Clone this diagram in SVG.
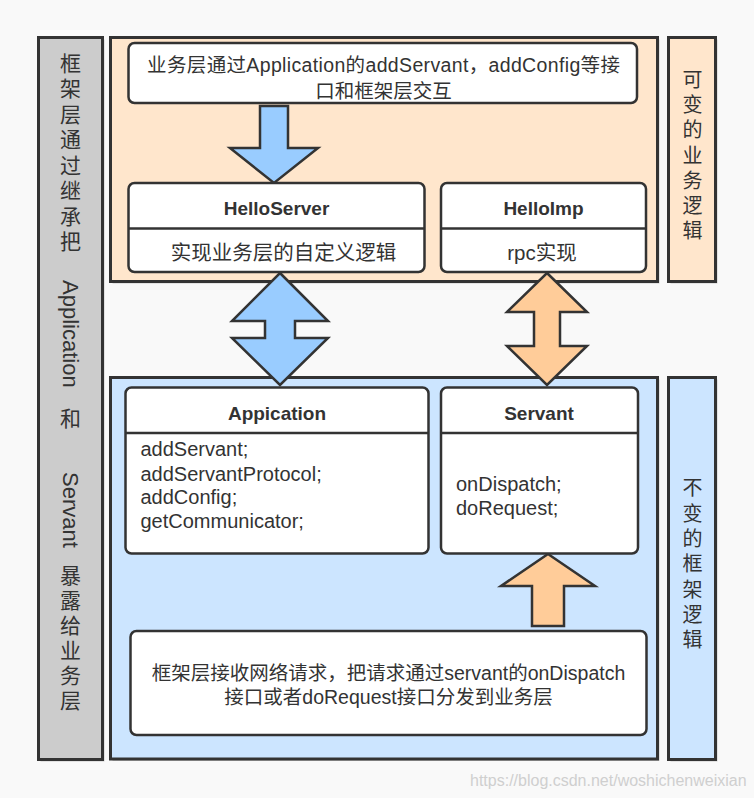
<svg xmlns="http://www.w3.org/2000/svg" width="754" height="798" viewBox="0 0 754 798">
<style>
text { font-family: "Liberation Sans", "Noto Sans CJK SC", sans-serif; fill: #333333; }
.cont { stroke: #333333; stroke-width: 3; }
.shadow { fill: #000000; opacity: 0.18; }
.box { fill: #ffffff; stroke: #333333; stroke-width: 2.5; }
.div { stroke: #333333; stroke-width: 2.5; }
.title { font-size: 19px; font-weight: bold; text-anchor: middle; }
.body { font-size: 20.5px; text-anchor: middle; }
.note { font-size: 19.5px; text-anchor: middle; }
.list { font-size: 20px; }
.vl { font-size: 21px; text-anchor: middle; dominant-baseline: central; }
.vr { font-size: 20px; text-anchor: middle; dominant-baseline: central; }
.vlat { font-size: 22px; }
.arrow { stroke: #333333; stroke-width: 2.5; stroke-linejoin: miter; }
</style>
<rect x="0" y="0" width="754" height="798" fill="#f9f9f9"/>

<g id="sidebar-left">
  <rect class="shadow" x="40.5" y="39.5" width="64" height="722"/>
  <rect class="cont" x="38.5" y="37.5" width="64" height="722" fill="#cccccc"/>
  <text class="vl" x="70.5" y="63">框</text>
  <text class="vl" x="70.5" y="88.5">架</text>
  <text class="vl" x="70.5" y="114">层</text>
  <text class="vl" x="70.5" y="139.5">通</text>
  <text class="vl" x="70.5" y="165">过</text>
  <text class="vl" x="70.5" y="190.5">继</text>
  <text class="vl" x="70.5" y="216">承</text>
  <text class="vl" x="70.5" y="241.5">把</text>
  <text class="vlat" transform="translate(62.5,280) rotate(90)">Application</text>
  <text class="vl" x="70.5" y="418">和</text>
  <text class="vlat" transform="translate(62.5,472) rotate(90)">Servant</text>
  <text class="vl" x="70.5" y="575">暴</text>
  <text class="vl" x="70.5" y="600">露</text>
  <text class="vl" x="70.5" y="625">给</text>
  <text class="vl" x="70.5" y="650">业</text>
  <text class="vl" x="70.5" y="675">务</text>
  <text class="vl" x="70.5" y="700">层</text>
</g>

<g id="business-layer">
  <rect class="shadow" x="112.5" y="39.5" width="547" height="244"/>
  <rect class="cont" x="110.5" y="37.5" width="547" height="244" fill="#ffe6cc"/>
</g>

<g id="framework-layer">
  <rect class="shadow" x="112.5" y="379.5" width="547" height="381.5"/>
  <rect class="cont" x="110.5" y="377.5" width="547" height="381.5" fill="#cce5ff"/>
</g>

<g id="sidebar-right-top">
  <rect class="shadow" x="670.5" y="39.5" width="47" height="244"/>
  <rect class="cont" x="668.5" y="37.5" width="47" height="244" fill="#ffe6cc"/>
  <text class="vr" x="692.5" y="80">可</text>
  <text class="vr" x="692.5" y="105.2">变</text>
  <text class="vr" x="692.5" y="130.4">的</text>
  <text class="vr" x="692.5" y="155.6">业</text>
  <text class="vr" x="692.5" y="180.8">务</text>
  <text class="vr" x="692.5" y="206">逻</text>
  <text class="vr" x="692.5" y="231.2">辑</text>
</g>

<g id="sidebar-right-bottom">
  <rect class="shadow" x="670.5" y="379.5" width="47" height="382"/>
  <rect class="cont" x="668.5" y="377.5" width="47" height="382" fill="#cce5ff"/>
  <text class="vr" x="692.5" y="488.3">不</text>
  <text class="vr" x="692.5" y="513.6">变</text>
  <text class="vr" x="692.5" y="538.9">的</text>
  <text class="vr" x="692.5" y="564.2">框</text>
  <text class="vr" x="692.5" y="589.5">架</text>
  <text class="vr" x="692.5" y="614.8">逻</text>
  <text class="vr" x="692.5" y="640.1">辑</text>
</g>

<g id="connectors">
  <polygon class="arrow" fill="#99ccff" points="260,106 288,106 288,148 318,148 274,183 230,148 260,148"/>
  <polygon class="arrow" fill="#99ccff" points="280,273 328,321 295,321 295,338 328,338 280,385 232,338 265,338 265,321 232,321"/>
  <polygon class="arrow" fill="#ffcc99" points="547,273 587,312 560,312 560,346 587,346 547,385 507,346 534,346 534,312 507,312"/>
  <polygon class="arrow" fill="#ffcc99" points="548,554 595,586 564,586 564,626 532,626 532,586 501,586"/>
</g>

<g id="note-top">
  <rect class="box" x="128.5" y="43" width="508.5" height="60" rx="6"/>
  <text class="note" x="383.7" y="72" letter-spacing="0.35">业务层通过Application的addServant，addConfig等接</text>
  <text class="note" x="383.5" y="97.5">口和框架层交互</text>
</g>

<g id="HelloServer">
  <rect class="box" x="128.5" y="183" width="296" height="89" rx="6"/>
  <line class="div" x1="128.5" y1="228.5" x2="424.5" y2="228.5"/>
  <text class="title" x="276.5" y="215">HelloServer</text>
  <text class="body" x="283.5" y="260">实现业务层的自定义逻辑</text>
</g>

<g id="HelloImp">
  <rect class="box" x="441" y="183" width="205" height="89" rx="6"/>
  <line class="div" x1="441" y1="228.5" x2="646" y2="228.5"/>
  <text class="title" x="543.5" y="215">HelloImp</text>
  <text class="body" x="542" y="260">rpc实现</text>
</g>

<g id="Appication">
  <rect class="box" x="125.5" y="387.5" width="303" height="166" rx="6"/>
  <line class="div" x1="125.5" y1="433" x2="428.5" y2="433"/>
  <text class="title" x="277" y="420">Appication</text>
  <text class="list" x="140.5" y="456">addServant;</text>
  <text class="list" x="140.5" y="480.5">addServantProtocol;</text>
  <text class="list" x="140.5" y="504">addConfig;</text>
  <text class="list" x="140.5" y="528">getCommunicator;</text>
</g>

<g id="Servant">
  <rect class="box" x="441" y="387.5" width="197" height="166" rx="6"/>
  <line class="div" x1="441" y1="433" x2="638" y2="433"/>
  <text class="title" x="539" y="420">Servant</text>
  <text class="list" x="456" y="491">onDispatch;</text>
  <text class="list" x="456" y="515">doRequest;</text>
</g>

<g id="note-bottom">
  <rect class="box" x="130.5" y="631" width="516" height="104" rx="6"/>
  <text class="note" x="388.5" y="680">框架层接收网络请求，把请求通过servant的onDispatch</text>
  <text class="note" x="388.5" y="704">接口或者doRequest接口分发到业务层</text>
</g>

<text x="470" y="786" font-size="16" style="fill:#cfcfcf">https://blog.csdn.net/woshichenweixian</text>
</svg>
